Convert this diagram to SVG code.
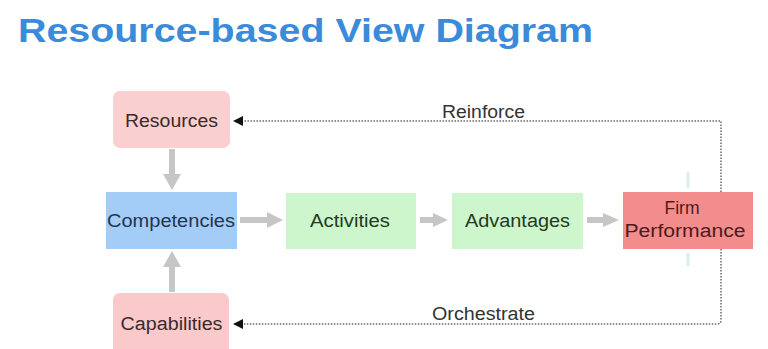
<svg xmlns="http://www.w3.org/2000/svg" width="768" height="349" viewBox="0 0 768 349">
<style>
text{font-family:"Liberation Sans",Arial,sans-serif;}
.title{font-size:33px;font-weight:bold;fill:#3a8bdb;}
.lbl{font-size:18px;text-anchor:middle;}
.note{font-size:18px;fill:#333;}
.big{fill:none;stroke:#c6c6c6;stroke-width:6;}
.head{fill:#c6c6c6;}
.dot{fill:none;stroke:#6a6a6a;stroke-width:1.5;stroke-dasharray:1.5 1.5;}
</style>
<defs>
<marker id="tri" markerWidth="10" markerHeight="10" refX="9" refY="5" orient="auto" markerUnits="userSpaceOnUse">
<path d="M0,0 L10,5 L0,10 Z" fill="#111"/>
</marker>
</defs>
<rect width="768" height="349" fill="#fff"/>
<text class="title" x="18" y="42" textLength="575" lengthAdjust="spacingAndGlyphs">Resource-based View Diagram</text>

<g id="connectors">
<!-- Resources -> Competencies -->
<line class="big" x1="172" y1="149" x2="172" y2="175"/>
<path class="head" d="M163,174 L181,174 L172,190 Z"/>
<!-- Capabilities -> Competencies -->
<line class="big" x1="172" y1="292" x2="172" y2="266"/>
<path class="head" d="M163,267 L181,267 L172,251 Z"/>
<!-- Competencies -> Activities -->
<line class="big" x1="240" y1="220" x2="268" y2="220"/>
<path class="head" d="M267,212 L283,220 L267,228 Z"/>
<!-- Activities -> Advantages -->
<line class="big" x1="420" y1="220" x2="434" y2="220"/>
<path class="head" d="M433,213 L448,220 L433,227 Z"/>
<!-- Advantages -> Firm Performance -->
<line class="big" x1="587" y1="220" x2="604" y2="220"/>
<path class="head" d="M603,213 L619,220 L603,227 Z"/>
<!-- faint ghost marks -->
<line x1="688" y1="172" x2="688" y2="188" stroke="#d9efe9" stroke-width="3"/>
<line x1="688" y1="253" x2="688" y2="266" stroke="#d9efe9" stroke-width="3"/>
<!-- Reinforce -->
<path class="dot" d="M721,192 L721,121 L234,121" marker-end="url(#tri)"/>
<!-- Orchestrate -->
<path class="dot" d="M721,249 L721,320 Q721,324 717,324 L234,324" marker-end="url(#tri)"/>
<text class="note" x="442" y="118" textLength="83" lengthAdjust="spacingAndGlyphs">Reinforce</text>
<text class="note" x="432" y="320" textLength="103" lengthAdjust="spacingAndGlyphs">Orchestrate</text>
</g>

<g id="resources">
<rect x="113" y="91" width="117" height="57" rx="7" fill="#f9cfcf"/>
<text class="lbl" x="171.5" y="127" fill="#3a2a2a" textLength="93" lengthAdjust="spacingAndGlyphs">Resources</text>
</g>
<g id="competencies">
<rect x="106" y="192" width="131" height="57" fill="#a3ccf6"/>
<text class="lbl" x="171" y="227" fill="#1f3550" textLength="128" lengthAdjust="spacingAndGlyphs">Competencies</text>
</g>
<g id="activities">
<rect x="286" y="193" width="130" height="56" fill="#cdf6cd"/>
<text class="lbl" x="350" y="227" fill="#233a23" textLength="80" lengthAdjust="spacingAndGlyphs">Activities</text>
</g>
<g id="advantages">
<rect x="452" y="193" width="131" height="56" fill="#cdf6cd"/>
<text class="lbl" x="517.5" y="227" fill="#233a23" textLength="105" lengthAdjust="spacingAndGlyphs">Advantages</text>
</g>
<g id="firm-performance">
<rect x="623" y="192" width="130" height="57" fill="#f38c8c"/>
<text class="lbl" x="682" y="214" fill="#4a1c1c" textLength="35" lengthAdjust="spacingAndGlyphs">Firm</text>
<text class="lbl" x="685" y="237" fill="#4a1c1c" textLength="121" lengthAdjust="spacingAndGlyphs">Performance</text>
</g>
<g id="capabilities">
<rect x="113" y="293" width="116" height="62" rx="7" fill="#fac9c9"/>
<text class="lbl" x="171.5" y="330" fill="#3a2a2a" textLength="102" lengthAdjust="spacingAndGlyphs">Capabilities</text>
</g>
</svg>
